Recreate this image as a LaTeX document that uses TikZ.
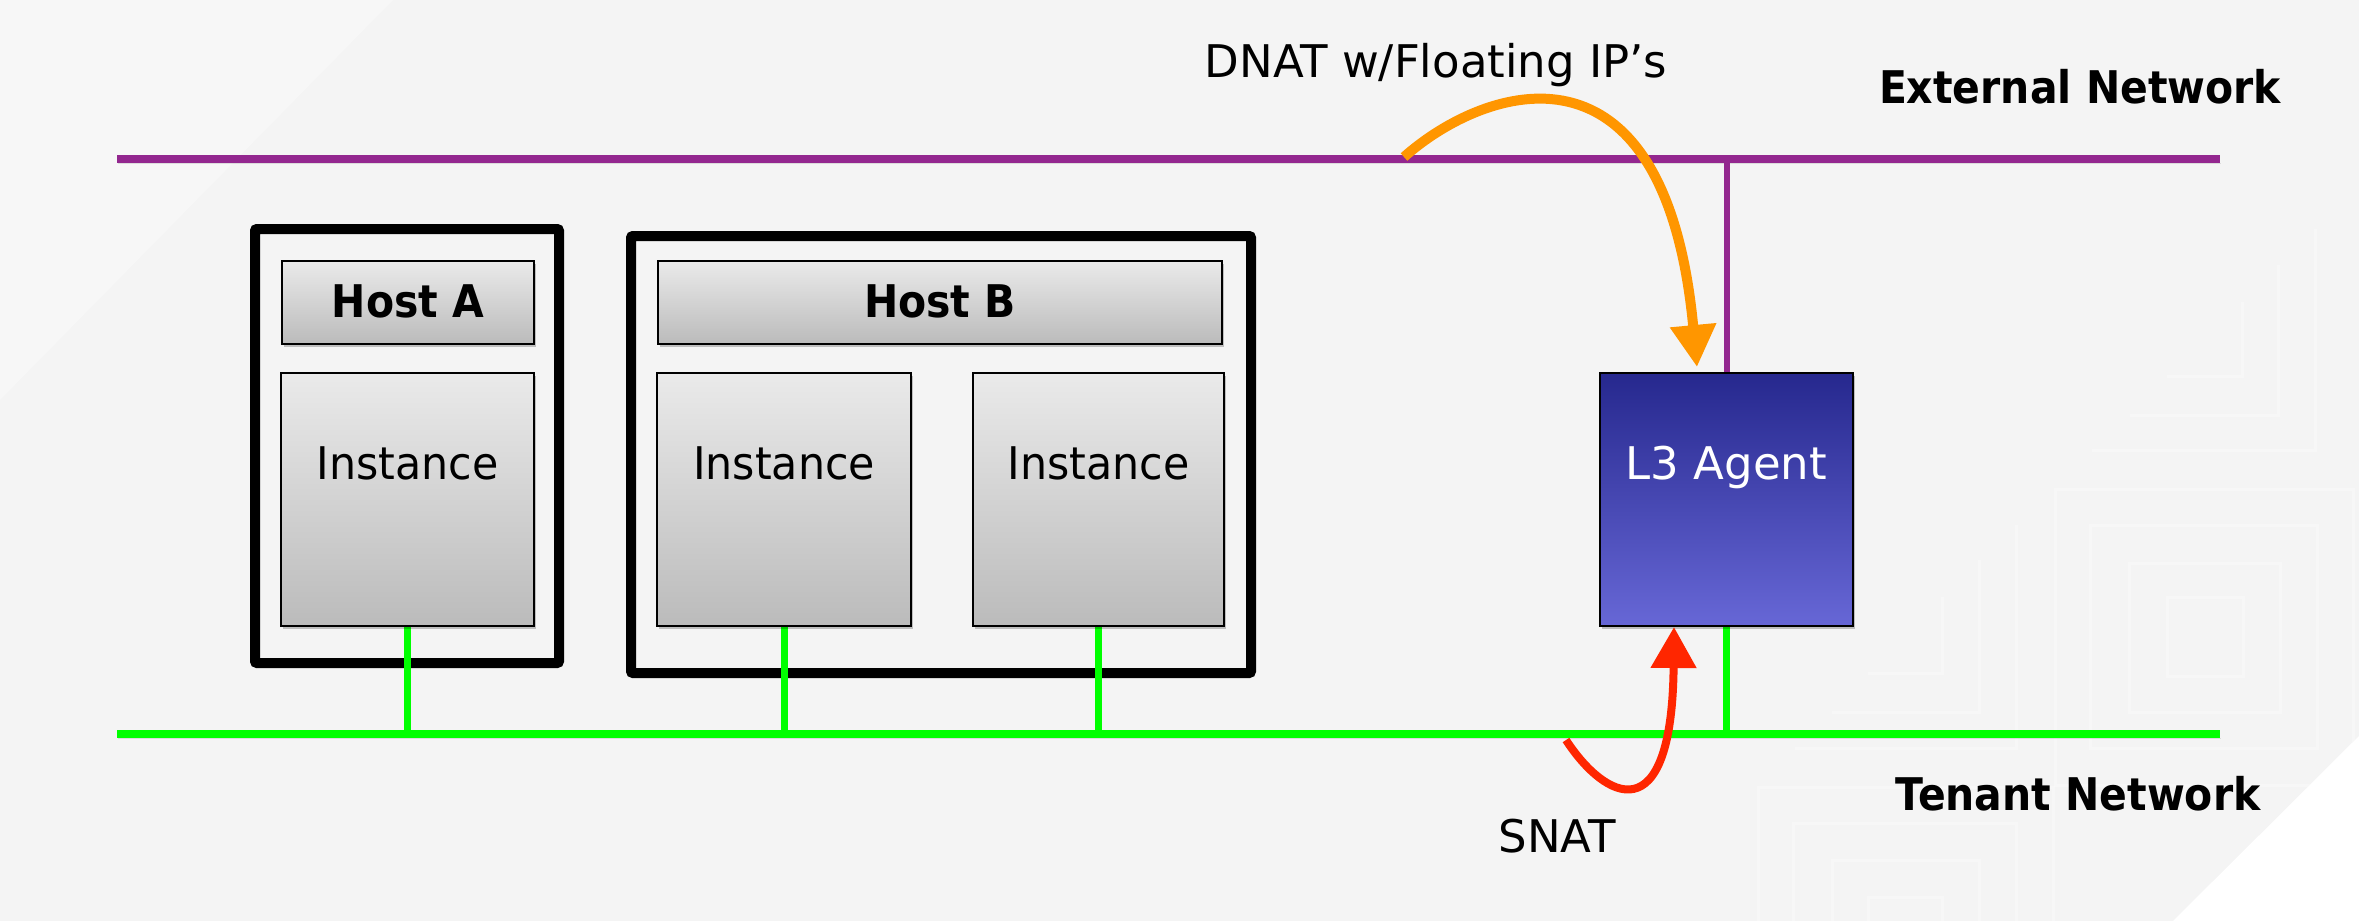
\documentclass[tikz,border=0pt]{standalone}
\usepackage{fontspec}
\setmainfont{DejaVu Sans}
\usetikzlibrary{arrows.meta,shadows}
\pgfdeclarelayer{bgl}
\pgfdeclarelayer{netl}
\pgfsetlayers{bgl,netl,main}
\definecolor{bgc}{RGB}{244,244,244}
\definecolor{bglight}{RGB}{247,247,247}
\definecolor{extnet}{RGB}{147,39,143}
\definecolor{tennet}{RGB}{0,255,0}
\definecolor{boxtop}{RGB}{234,234,234}
\definecolor{boxbot}{RGB}{187,187,187}
\definecolor{l3top}{RGB}{38,40,142}
\definecolor{l3bot}{RGB}{103,103,214}
\definecolor{dnatc}{RGB}{255,150,0}
\definecolor{snatc}{RGB}{255,38,0}
\begin{document}
\begin{tikzpicture}[x=1pt,y=-1pt,
  boxshadow/.style={drop shadow={opacity=0.22, shadow xshift=2pt, shadow yshift=-3pt, fill=black}},
  graybox/.style={draw=black, line width=2pt, top color=boxtop, bottom color=boxbot, inner sep=0pt, boxshadow},
  l3box/.style={draw=black, line width=2pt, top color=l3top, bottom color=l3bot, inner sep=0pt, boxshadow},
  hostbox/.style={draw=black, line width=10pt, inner sep=0pt, rounded corners=2pt},
  lineshadow/.style={preaction={draw=black, opacity=0.10, transform canvas={shift={(1pt,-4pt)}}}},
  extline/.style={draw=extnet, line width=8pt, lineshadow},
  tenline/.style={draw=tennet, line width=8pt, lineshadow},
  extdrop/.style={draw=extnet, line width=6pt},
  tendrop/.style={draw=tennet, line width=7pt},
  regtxt/.style={font=\fontsize{45}{54}\selectfont, inner sep=0pt, text=black},
  boldtxt/.style={font=\fontsize{45}{54}\selectfont\bfseries, inner sep=0pt, text=black},
  bgline/.style={draw=white, opacity=0.3, line width=3pt},
  dnatarrow/.style={draw=dnatc, line width=10pt, -{Triangle[width=44pt,length=42pt]}},
  snatarrow/.style={draw=snatc, line width=8pt, -{Triangle[width=44pt,length=41pt]}}
]
\useasboundingbox (0,0) rectangle (2359,921);

% ---------- background ----------
\begin{pgfonlayer}{bgl}
\fill[bgc] (0,0) rectangle (2359,921);
\fill[bglight] (0,0) -- (393,0) -- (0,400) -- cycle;
\draw[bgline] (2167,597) rectangle (2243,676);
\draw[bgline] (2129,563) rectangle (2280,712);
\draw[bgline] (2090,525) rectangle (2317,748);
\draw[bgline] (2055,489) rectangle (2353,785);
\draw[bgline] (2167,376) -- (2242,376) -- (2242,302);
\draw[bgline] (2130,415) -- (2278,415) -- (2278,265);
\draw[bgline] (2092,450) -- (2315,450) -- (2315,229);
\draw[bgline] (1868,673) -- (1942,673) -- (1942,597);
\draw[bgline] (1832,712) -- (1979,712) -- (1979,560);
\draw[bgline] (1795,748) -- (2016,748) -- (2016,525);
\draw[bgline] (1758,921) -- (1758,787) -- (2053,787) -- (2053,921);
\draw[bgline] (1793,921) -- (1793,823) -- (2016,823) -- (2016,921);
\draw[bgline] (1832,921) -- (1832,860) -- (1979,860) -- (1979,921);
\draw[bgline] (1868,921) -- (1868,897) -- (1942,897) -- (1942,921);
\fill[white] (2359,736) -- (2359,921) -- (2173,921) -- cycle;
\end{pgfonlayer}

% ---------- boxes ----------
\node[graybox, minimum width=252pt, minimum height=83pt] (hla) at (408,302.5) {};
\node[graybox, minimum width=564pt, minimum height=83pt] (hlb) at (940,302.5) {};
\node[graybox, minimum width=253pt, minimum height=253pt] (ia) at (407.5,499.5) {};
\node[graybox, minimum width=254pt, minimum height=253pt] (ib1) at (784,499.5) {};
\node[graybox, minimum width=251pt, minimum height=253pt] (ib2) at (1098.5,499.5) {};
\node[l3box, minimum width=253pt, minimum height=253pt] (l3) at (1726.5,499.5) {};

% ---------- networks, hosts, drops ----------
\begin{pgfonlayer}{netl}
\coordinate (ext-l) at (117,159);
\coordinate (ext-r) at (2220,159);
\coordinate (ten-l) at (117,734);
\coordinate (ten-r) at (2220,734);
\draw[extline] (ext-l) -- (ext-r);
\draw[tenline] (ten-l) -- (ten-r);
\node[hostbox, minimum width=304pt, minimum height=434pt] (hosta) at (407,446) {};
\node[hostbox, minimum width=620pt, minimum height=437pt] (hostb) at (941,454.5) {};
\draw[extdrop] (l3.north) -- (l3.north |- ext-l);
\draw[tendrop] (l3.south) -- (l3.south |- ten-l);
\draw[tendrop] (ia.south) -- (ia.south |- ten-l);
\draw[tendrop] (ib1.south) -- (ib1.south |- ten-l);
\draw[tendrop] (ib2.south) -- (ib2.south |- ten-l);
\end{pgfonlayer}

% ---------- texts in boxes ----------
\node[boldtxt, anchor=base] (t-ha) at ([yshift=-14.5pt]hla.center) {\scalebox{0.91}[1]{Host A}};
\node[boldtxt, anchor=base] (t-hb) at ([yshift=-14.5pt]hlb.center) {\scalebox{0.91}[1]{Host B}};
\node[regtxt, anchor=base] (t-ia) at ([yshift=20.5pt]ia.center) {\scalebox{0.95}[1]{Instance}};
\node[regtxt, anchor=base] (t-ib1) at ([yshift=20.5pt]ib1.center) {\scalebox{0.95}[1]{Instance}};
\node[regtxt, anchor=base] (t-ib2) at ([yshift=20.5pt]ib2.center) {\scalebox{0.95}[1]{Instance}};
\node[regtxt, anchor=base, text=white] (t-l3) at ([yshift=20.5pt]l3.center) {L3 Agent};

% ---------- NAT arrows ----------
\coordinate (dnat-s) at (1404,157);
\coordinate (snat-s) at (1566,740);
\draw[dnatarrow] (dnat-s) .. controls (1485,85) and (1665,25) .. ([xshift=-29.5pt,yshift=5pt]l3.north);
\draw[snatarrow] (snat-s) .. controls (1605,800) and (1672,835) .. ([xshift=-52.5pt]l3.south);

% ---------- labels ----------
\node[regtxt, anchor=base] (t-dnat) at (1436,77) {DNAT w/Floating IP’s};
\node[regtxt, anchor=base] (t-snat) at (1557,852) {SNAT};
\node[boldtxt, anchor=base] (t-ext) at (2080,103) {\scalebox{0.91}[1]{External Network}};
\node[boldtxt, anchor=base] (t-ten) at (2078,810) {\scalebox{0.91}[1]{Tenant Network}};
\end{tikzpicture}
\end{document}
